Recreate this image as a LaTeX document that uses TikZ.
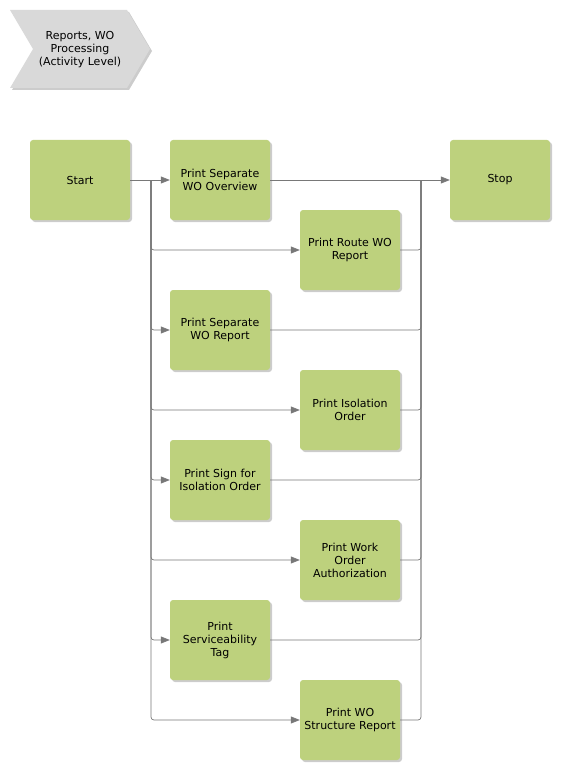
\documentclass[tikz,border=0pt]{standalone}
\usepackage{fontspec}
\setmainfont{DejaVu Sans}
\usetikzlibrary{arrows.meta,positioning,calc,shadows}
\definecolor{actgreen}{RGB}{189,209,125}
\definecolor{linegray}{RGB}{120,120,120}
\definecolor{headgray}{RGB}{217,217,217}
\tikzset{
  act/.style={fill=actgreen, rounded corners=3pt, minimum width=100pt, minimum height=80pt,
    align=center, font=\fontsize{11}{13}\selectfont,
    drop shadow={shadow xshift=2pt, shadow yshift=-2pt, fill=black!40, opacity=.5}},
  flow/.style={draw=linegray, line width=0.7pt, rounded corners=3pt},
}

\begin{document}
\begin{tikzpicture}[x=1pt,y=-1pt,>={Triangle[length=9pt,width=7pt]}]
  \useasboundingbox (0,0) rectangle (560,770);
  % header chevron
  \fill[headgray, drop shadow={shadow xshift=2pt, shadow yshift=-2pt, fill=black!40, opacity=.5}]
    (10,10) -- (127,10) -- (150,49) -- (127,88) -- (10,88) -- (33,49) -- cycle;
  \node[font=\fontsize{11}{13}\selectfont, align=center] (title) at (80,50) {Reports, WO\\Processing\\(Activity Level)};
  % activities
  \node[act] (start) at (80,180) {Start};
  \node[act] (stop) at (500,180) {Stop};
  \node[act] (sepov) at (220,180) {Print Separate\\WO Overview};
  \node[act] (route) at (350,250) {Print Route WO\\Report};
  \node[act] (seprep) at (220,330) {Print Separate\\WO Report};
  \node[act] (isol) at (350,410) {Print Isolation\\Order};
  \node[act] (sign) at (220,480) {Print Sign for\\Isolation Order};
  \node[act] (auth) at (350,560) {Print Work\\Order\\Authorization};
  \node[act] (tag) at (220,640) {Print\\Serviceability\\Tag};
  \node[act] (struct) at (350,720) {Print WO\\Structure Report};
  % split and merge
  \coordinate (split) at (151,180);
  \coordinate (merge) at (421,180);
  \draw[flow,->] (start) -- (sepov);
  \draw[flow,->] (sepov) -- (stop);
  \foreach \n in {route,seprep,isol,sign,auth,tag,struct}{
    \draw[flow,->] (split) |- (\n.west);
    \draw[flow] (\n.east) -| (merge);
  }
\end{tikzpicture}
\end{document}
